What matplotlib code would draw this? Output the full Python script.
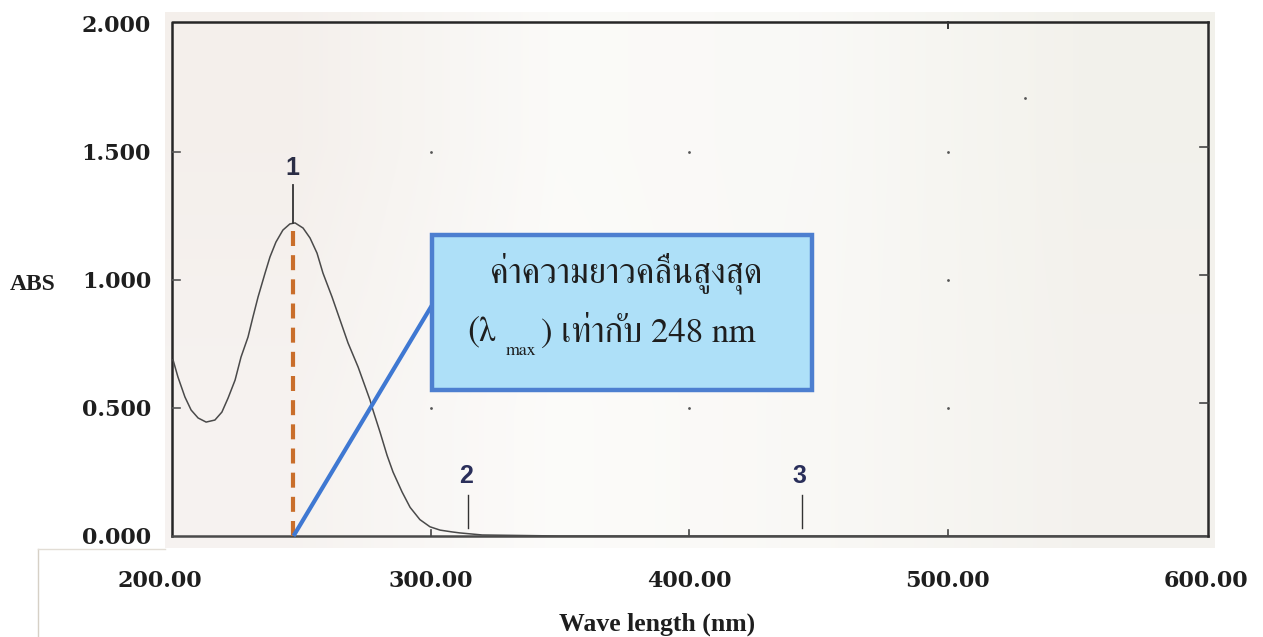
import matplotlib
matplotlib.use("Agg")
import matplotlib.pyplot as plt
from matplotlib import font_manager as fm
from matplotlib.patches import Rectangle
from matplotlib.lines import Line2D
from matplotlib.transforms import ScaledTranslation
import numpy as np

# ---------------- data ----------------
wavelength = [200.4, 202.3, 205.0, 207.4, 210.1, 213.2, 216.6, 219.3, 221.7, 224.4,
              226.7, 229.4, 231.3, 233.3, 236.0, 237.9, 240.2, 242.9, 245.6, 247.6,
              250.7, 253.4, 256.1, 258.4, 261.9, 265.0, 268.1, 272.0, 276.6, 277.8,
              280.5, 283.2, 285.5, 289.0, 292.1, 295.9, 299.8, 303.7, 308.3, 311.4,
              320.0, 350.0, 400.0, 450.0, 500.0, 550.0, 600.0]
absorbance = [0.688, 0.621, 0.543, 0.492, 0.461, 0.445, 0.453, 0.484, 0.539, 0.609,
              0.699, 0.777, 0.855, 0.934, 1.027, 1.090, 1.148, 1.195, 1.219, 1.223,
              1.203, 1.164, 1.105, 1.027, 0.934, 0.844, 0.754, 0.660, 0.531, 0.490,
              0.405, 0.315, 0.250, 0.172, 0.112, 0.064, 0.036, 0.023, 0.016, 0.012,
              0.004, 0.0, 0.0, 0.0, 0.0, 0.0, 0.0]

lambda_max = 247.0
peak_abs = 1.223
peak_marks = [247.0, 314.5, 443.7]
peak_labels = ["1", "2", "3"]

x_ticks = [200, 300, 400, 500, 600]
x_tick_labels = ["200.00", "300.00", "400.00", "500.00", "600.00"]
y_ticks = [0.0, 0.5, 1.0, 1.5, 2.0]
y_tick_labels = ["0.000", "0.500", "1.000", "1.500", "2.000"]

grid_dot_x = [300, 400, 500, 300, 500, 300, 400, 500, 530]
grid_dot_y = [1.5, 1.5, 1.5, 1.0, 1.0, 0.5, 0.5, 0.5, 1.71]

box_line1 = "ค่าความยาวคลื่นสูงสุด"
box_line2_a = "(λ"
box_line2_sub = "max"
box_line2_b = ") เท่ากับ 248 nm"
x_label = "Wave length (nm)"
y_label = "ABS"

# ---------------- fonts ----------------
available = {f.name for f in fm.fontManager.ttflist}
def pick(*names):
    return [n for n in names if n in available] or ["DejaVu Serif"]

tick_font = ["DejaVu Serif"]
label_font = pick("Liberation Serif", "DejaVu Serif")
thai_font = pick("FreeSerif", "Noto Serif Thai", "Loma") + ["DejaVu Serif"]
num_font = pick("Liberation Sans", "DejaVu Sans")

W, H = 1263, 637
fig = plt.figure(figsize=(W / 100, H / 100), dpi=100)
fig.patch.set_facecolor("white")

# axes covers the scanned plotting region
ax_l, ax_r, ax_t, ax_b = 165, 1215, 12, 548
ax = fig.add_axes([ax_l / W, 1 - ax_b / H, (ax_r - ax_l) / W, (ax_b - ax_t) / H])
px_per_nm = 2.585
px_per_abs = 256.0
xmin = 200 - (172 - ax_l) / px_per_nm
xmax = 600 + (ax_r - 1206) / px_per_nm
ymin = -(ax_b - 536) / px_per_abs
ymax = 2 + (24 - ax_t) / px_per_abs
ax.set_xlim(xmin, xmax)
ax.set_ylim(ymin, ymax)
for s in ax.spines.values():
    s.set_visible(False)

# paper-like background
bg = np.array([[[0.958, 0.940, 0.925], [0.984, 0.982, 0.974], [0.978, 0.976, 0.965], [0.952, 0.948, 0.925]],
               [[0.966, 0.952, 0.942], [0.988, 0.986, 0.980], [0.978, 0.974, 0.962], [0.955, 0.948, 0.932]]])
ax.imshow(bg, extent=[xmin, xmax, ymin, ymax], aspect="auto", interpolation="bilinear", zorder=0)

# frame
fx0, fx1, fy0, fy1 = 200, 600.8, 0.0, 2.008
ax.plot([fx1, fx0, fx0], [fy1, fy1, fy0], color="#262626", lw=1.8, zorder=2)
ax.plot([fx0, fx1], [fy0, fy0], color="#4a4a4a", lw=1.8, zorder=2)
ax.plot([fx1, fx1], [fy0, fy1], color="#2a2a2a", lw=1.8, zorder=2)

# small inner ticks of the instrument frame
for yv in [0.5, 1.0, 1.5]:
    ax.plot([fx0, fx0 + 3], [yv, yv], color="#555555", lw=1.2, zorder=2)
    ax.plot([fx1 - 3, fx1], [yv + 0.02, yv + 0.02], color="#444444", lw=1.2, zorder=2)
for xv in [300, 400, 500]:
    ax.plot([xv, xv], [0, 0.025], color="#444444", lw=1.2, zorder=2)
ax.plot([500, 500], [fy1 - 0.025, fy1], color="#333333", lw=1.4, zorder=2)

# grid dots
ax.scatter(grid_dot_x, grid_dot_y, s=4, color="#555555", zorder=2, linewidths=0)

# spectrum
ax.plot(wavelength, absorbance, color="#4a4a4a", lw=1.1, zorder=3, solid_joinstyle="round")

# peak markers
for xm, lab in zip(peak_marks, peak_labels):
    if lab == "1":
        ax.plot([xm, xm], [peak_abs, 1.37], color="#333333", lw=1.3, zorder=3)
        ax.text(xm - 0.5, 1.437, lab, ha="center", va="center", fontsize=18, fontweight="bold",
                family=num_font, color="#2a2d45", zorder=4)
    else:
        ax.plot([xm, xm], [0.031, 0.16], color="#333333", lw=1.0, zorder=3)
        ax.text(xm - 0.8, 0.234, lab, ha="center", va="center", fontsize=18, fontweight="bold",
                family=num_font, color="#2a2f5a", zorder=4)

# lambda max dashed line
ax.plot([lambda_max, lambda_max], [0, peak_abs], color="#c96e2b", lw=3.0,
        dashes=(3.6, 2.2), zorder=4)

# text box and pointer
bx0, bx1, by0, by1 = 300.6, 447.6, 0.570, 1.176
ax.plot([lambda_max, bx0], [0, 0.902], color="#3f78d2", lw=3.0, zorder=5, solid_capstyle="butt")
ax.add_patch(Rectangle((bx0, by0), bx1 - bx0, by1 - by0, facecolor="#aee0f8",
                       edgecolor="#4d7fd0", lw=3.2, zorder=6))
ax.text((bx0 + bx1) / 2 + 1.5, 0.992, box_line1, ha="center", va="baseline", fontsize=25,
        family=thai_font, color="#1e1e1e", zorder=7)
ax.text(314.3, 0.758, box_line2_a, ha="left", va="baseline", fontsize=26,
        family=thai_font, color="#1e1e1e", zorder=7)
ax.text(329.3, 0.707, box_line2_sub, ha="left", va="baseline", fontsize=13,
        family=thai_font, color="#1e1e1e", zorder=7)
ax.text(342.7, 0.758, box_line2_b, ha="left", va="baseline", fontsize=25,
        family=thai_font, color="#1e1e1e", zorder=7)

# tick labels
ax.set_xticks(x_ticks)
ax.set_xticklabels(x_tick_labels)
ax.set_yticks(y_ticks)
ax.set_yticklabels(y_tick_labels)
ax.tick_params(axis="both", length=0)
ax.tick_params(axis="x", pad=16)
ax.tick_params(axis="y", pad=10)
for t in ax.get_xticklabels() + ax.get_yticklabels():
    t.set_family(tick_font)
    t.set_fontweight("bold")
    t.set_fontsize(16)
    t.set_color("#1e1e1e")
first = ax.get_xticklabels()[0]
first.set_transform(first.get_transform() + ScaledTranslation(-12 / 100, 0, fig.dpi_scale_trans))

fig.text(657 / W, 1 - 624 / H, x_label, ha="center", va="center", fontsize=18.5,
         fontweight="bold", family=label_font, color="#1e1e1e")
fig.text(33 / W, 1 - 284 / H, y_label, ha="center", va="center", fontsize=17,
         fontweight="bold", family=label_font, color="#1e1e1e")

# light edge of the pasted label panel
fig.add_artist(Line2D([38 / W, 38 / W], [0, 1 - 549 / H], transform=fig.transFigure,
                      color="#d6d0c6", lw=1.0))
fig.add_artist(Line2D([38 / W, ax_l / W], [1 - 549 / H, 1 - 549 / H], transform=fig.transFigure,
                      color="#e2ddd5", lw=1.0))

fig.savefig("out.png", dpi=100)
